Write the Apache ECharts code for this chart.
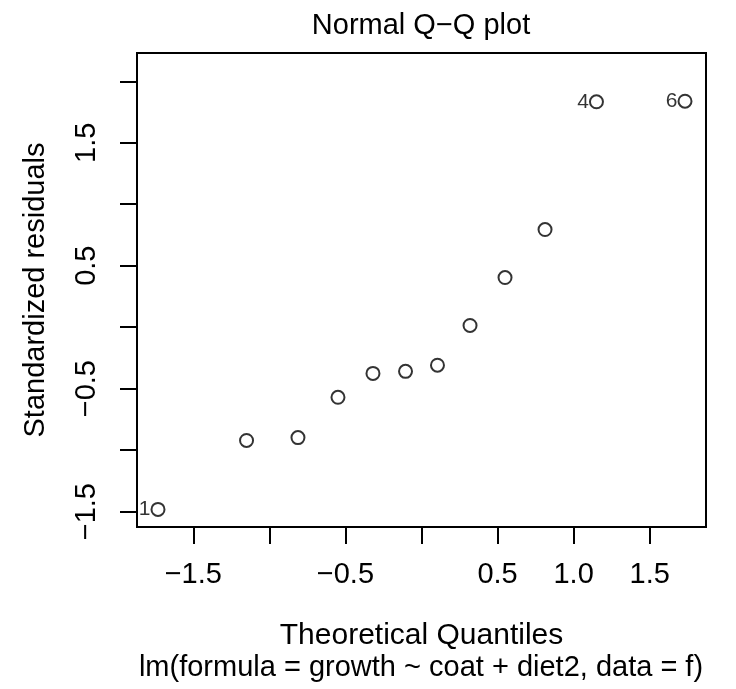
<!DOCTYPE html>
<html>
<head>
<meta charset="utf-8">
<script src="https://cdn.jsdelivr.net/npm/echarts@6/dist/echarts.min.js"></script>
<style>
html,body{margin:0;padding:0;background:#fff;}
#chart{width:736px;height:689px;}
</style>
</head>
<body>
<div id="chart"></div>
<script>
// Theoretical quantiles (x) and standardized residuals (y)
var theoreticalQuantiles = [-1.732, -1.150, -0.812, -0.549, -0.319, -0.105, 0.105, 0.319, 0.549, 0.812, 1.150, 1.732];
var standardizedResiduals = [-1.482, -0.921, -0.898, -0.570, -0.376, -0.359, -0.309, 0.014, 0.404, 0.794, 1.833, 1.838];
var pointLabels = ['1', '', '', '', '', '', '', '', '', '', '4', '6'];

var xTicks = [-1.5, -1.0, -0.5, 0, 0.5, 1.0, 1.5];
var xTickLabels = [-1.5, -0.5, 0.5, 1.0, 1.5];
var yTicks = [-1.5, -1.0, -0.5, 0, 0.5, 1.0, 1.5, 2.0];
var yTickLabels = [-1.5, -0.5, 0.5, 1.5];

var mainTitle = 'Normal Q\u2212Q plot';
var xTitle = 'Theoretical Quantiles';
var yTitle = 'Standardized residuals';
var subTitle = 'lm(formula = growth ~ coat + diet2, data = f)';

var FONT = '"Liberation Sans", Arial, Helvetica, sans-serif';
var FS = 29;

function fmt(v) {
  return (v < 0 ? '\u2212' : '') + Math.abs(v).toFixed(1);
}

var data = theoreticalQuantiles.map(function (x, i) {
  return [x, standardizedResiduals[i]];
});

var chart = echarts.init(document.getElementById('chart'), null, {renderer: 'canvas'});
chart.setOption({
  animation: false,
  backgroundColor: '#fff',
  textStyle: {fontFamily: FONT},
  grid: {
    left: 137, right: 30, top: 53, bottom: 162,
    show: true, borderColor: '#000', borderWidth: 2, backgroundColor: 'transparent'
  },
  xAxis: {
    type: 'value',
    min: -1.87, max: 1.87,
    axisLine: {show: false, onZero: false},
    splitLine: {show: false},
    axisTick: {show: true, length: 17, lineStyle: {color: '#000', width: 2}, customValues: xTicks},
    axisLabel: {
      customValues: xTickLabels, formatter: fmt,
      fontSize: FS, color: '#000', margin: 33, fontFamily: FONT
    },
    name: xTitle, nameLocation: 'middle', nameGap: 94,
    nameTextStyle: {fontSize: 30, color: '#000', fontFamily: FONT}
  },
  yAxis: {
    type: 'value',
    min: -1.625, max: 2.23,
    axisLine: {show: false, onZero: false},
    splitLine: {show: false},
    axisTick: {show: true, length: 17, lineStyle: {color: '#000', width: 2}, customValues: yTicks},
    axisLabel: {
      customValues: yTickLabels, formatter: fmt, rotate: 90,
      fontSize: FS, color: '#000', margin: 36, fontFamily: FONT
    },
    name: yTitle, nameLocation: 'middle', nameGap: 87, nameRotate: 90,
    nameTextStyle: {fontSize: FS, color: '#000', fontFamily: FONT}
  },
  graphic: [
    {type: 'text', x: 421, y: 26, style: {text: mainTitle, font: FS + 'px ' + FONT, fill: '#000', textAlign: 'center', textVerticalAlign: 'middle'}},
    {type: 'text', x: 421, y: 668, style: {text: subTitle, font: FS + 'px ' + FONT, fill: '#000', textAlign: 'center', textVerticalAlign: 'middle'}}
  ],
  series: [{
    type: 'scatter',
    data: data,
    symbol: 'circle',
    symbolSize: 13,
    itemStyle: {color: 'rgba(0,0,0,0)', borderColor: '#000', borderWidth: 2},
    label: {
      show: true, position: 'left', distance: 0,
      formatter: function (p) { return pointLabels[p.dataIndex]; },
      fontSize: 21, color: '#000', fontFamily: FONT
    },
    emphasis: {disabled: true}
  }]
});
</script>
</body>
</html>
